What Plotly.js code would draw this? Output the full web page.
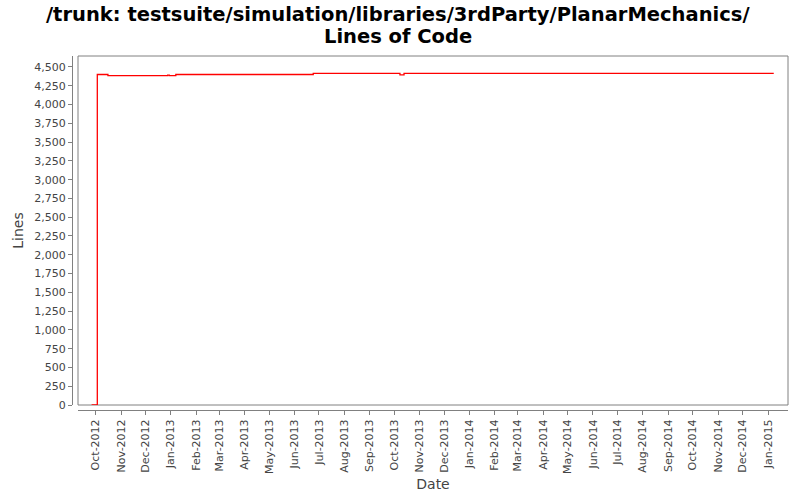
<!DOCTYPE html>
<html>
<head>
<meta charset="utf-8">
<script src="https://cdn.plot.ly/plotly-3.0.1.min.js"></script>
<style>html,body{margin:0;padding:0;background:#fff;}#chart{width:800px;height:500px;}</style>
</head>
<body>
<div id="chart"></div>
<script>
var titleLines = ['/trunk: testsuite/simulation/libraries/3rdParty/PlanarMechanics/', 'Lines of Code'];
var dates = ['2012-09-26', '2012-10-03', '2012-10-16', '2012-12-28', '2012-12-30', '2013-01-07', '2013-06-24', '2013-10-08', '2013-10-13', '2015-01-08'];
var lines = [0, 4400, 4385, 4392, 4385, 4400, 4415, 4395, 4415, 4415];
var yTicks = [0, 250, 500, 750, 1000, 1250, 1500, 1750, 2000, 2250, 2500, 2750, 3000, 3250, 3500, 3750, 4000, 4250, 4500];

var trace = {
  x: dates, y: lines, type: 'scatter', mode: 'lines',
  line: {shape: 'hv', color: '#ff0000', width: 1.3},
  hoverinfo: 'x+y'
};

var titleFont = {family: 'DejaVu Sans, sans-serif', size: 19.5, color: '#000'};
var layout = {
  width: 800, height: 500,
  margin: {l: 72, r: 12, t: 56, b: 90},
  paper_bgcolor: '#ffffff', plot_bgcolor: '#ffffff',
  showlegend: false,
  annotations: [
    {text: '<b>' + titleLines[0] + '</b>', xref: 'paper', yref: 'paper', x: 0.4553, y: 1.1186,
     xanchor: 'center', yanchor: 'middle', showarrow: false, font: titleFont, borderpad: 0},
    {text: '<b>' + titleLines[1] + '</b>', xref: 'paper', yref: 'paper', x: 0.4553, y: 1.0537,
     xanchor: 'center', yanchor: 'middle', showarrow: false, font: titleFont, borderpad: 0}
  ],
  xaxis: {
    type: 'date',
    domain: [0.0084, 1],
    anchor: 'free', position: 0,
    range: ['2012-09-09 10:00', '2015-01-25 10:00'],
    dtick: 'M1', tick0: '2012-10-01', tickformat: '%b-%Y', tickangle: -90,
    ticks: 'outside', ticklen: 4, tickcolor: '#808080',
    showline: true, linecolor: '#808080', linewidth: 1,
    showgrid: false, zeroline: false,
    tickfont: {family: 'DejaVu Sans, sans-serif', size: 11, color: '#444'},
    title: {text: 'Date', font: {family: 'DejaVu Sans, sans-serif', size: 14, color: '#444'}, standoff: 6}
  },
  yaxis: {
    domain: [0.0141, 1],
    anchor: 'free', position: 0,
    range: [0, 4646],
    tickvals: yTicks, tickformat: ',d',
    ticks: 'outside', ticklen: 4, tickcolor: '#808080',
    showline: true, linecolor: '#808080', linewidth: 1,
    showgrid: false, zeroline: false,
    tickfont: {family: 'DejaVu Sans, sans-serif', size: 11, color: '#444'},
    title: {text: 'Lines', font: {family: 'DejaVu Sans, sans-serif', size: 14, color: '#444'}, standoff: 6}
  },
  shapes: [{
    type: 'rect', xref: 'x domain', yref: 'y domain', x0: 0, x1: 1, y0: 0, y1: 1,
    line: {color: '#808080', width: 1}, fillcolor: 'rgba(0,0,0,0)', layer: 'below'
  }]
};

Plotly.newPlot('chart', [trace], layout, {displayModeBar: false, staticPlot: true});
</script>
</body>
</html>
